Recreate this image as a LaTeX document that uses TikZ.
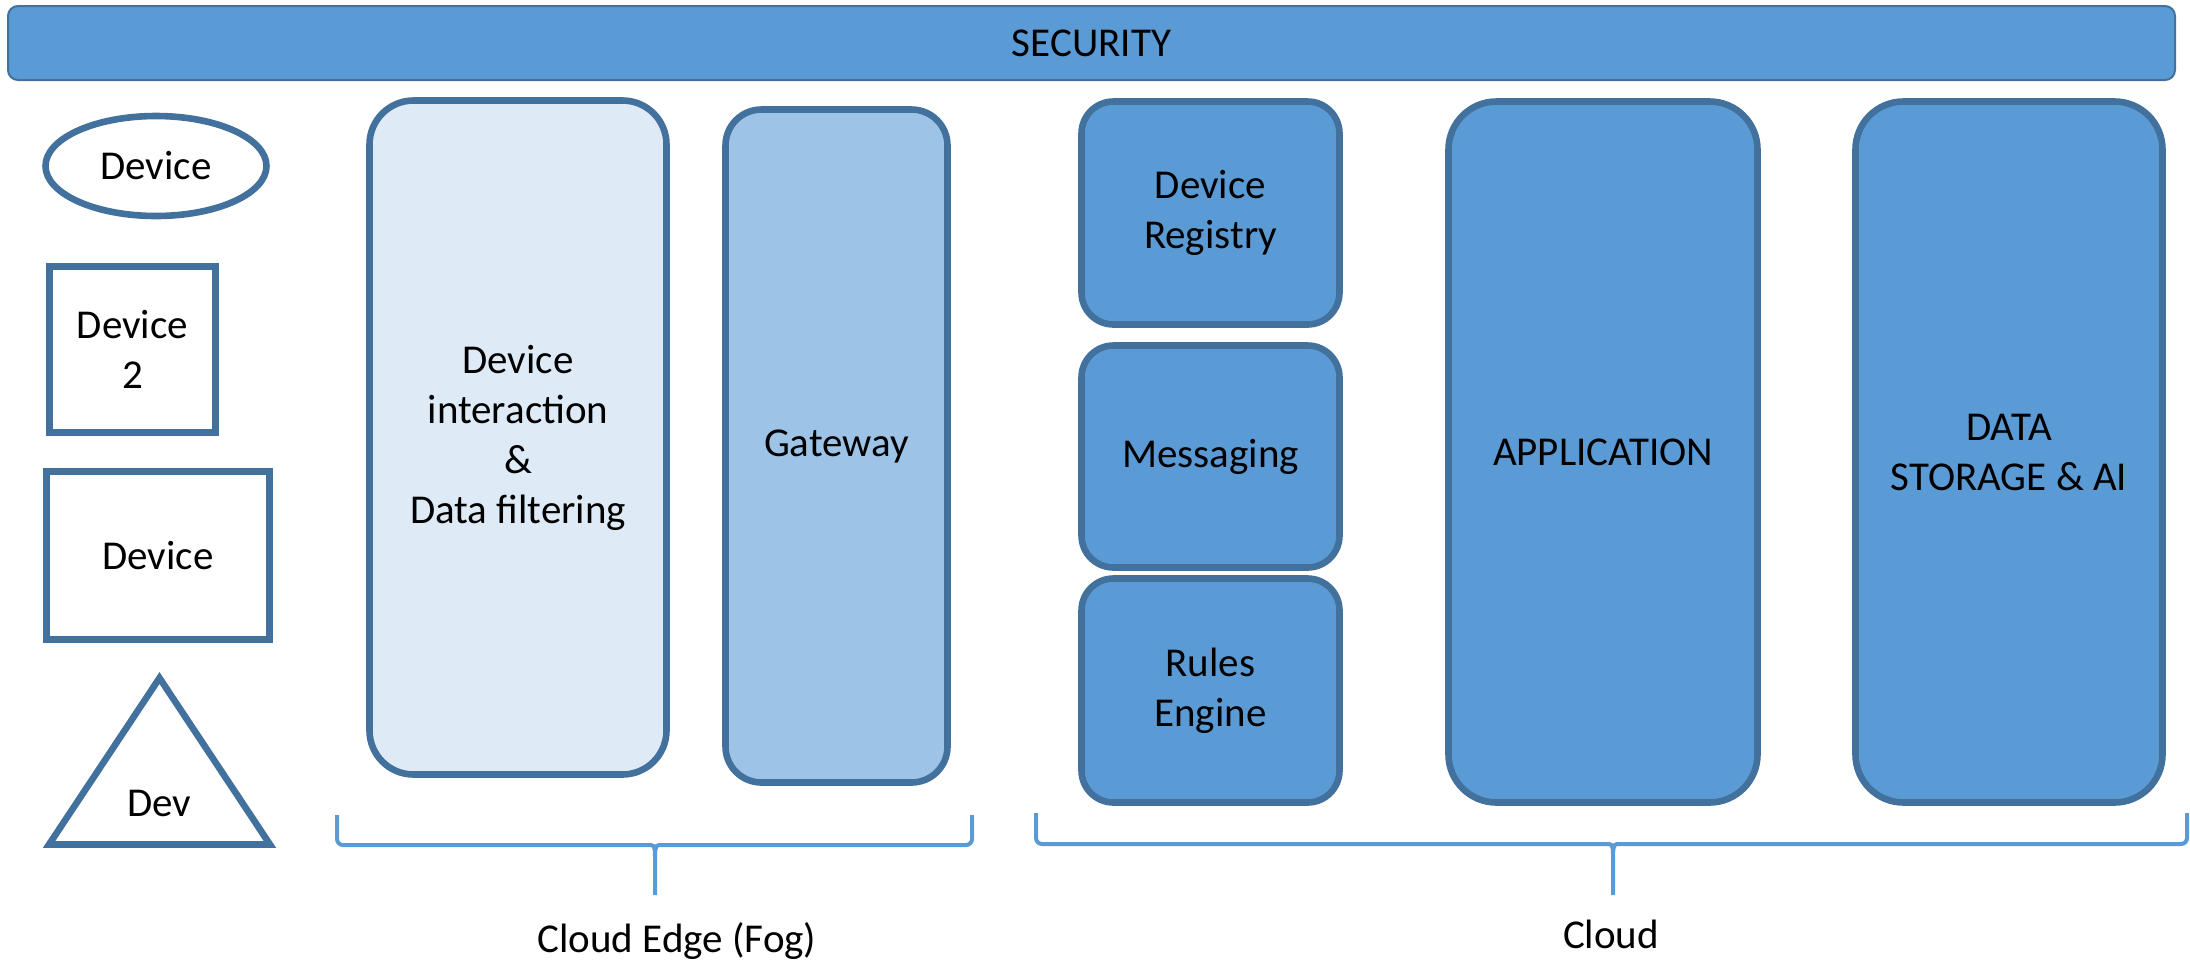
\documentclass[tikz,border=0pt]{standalone}
\usepackage{fontspec}
\setmainfont{Carlito}
\usetikzlibrary{positioning, shapes}
\definecolor{layerblue}{HTML}{5B9BD5}
\definecolor{edgeblue}{HTML}{41719C}
\definecolor{fogblue}{HTML}{DEEBF7}
\definecolor{gateblue}{HTML}{9DC3E6}
\tikzset{Text style/.style={font=\fontsize{20.5}{25}\selectfont, align=center, inner sep=0pt}}
\tikzset{Layer style/.style={Text style, draw=edgeblue, line width=3.3pt, fill=layerblue, rounded corners=16pt}}
\tikzset{Device style/.style={Text style, draw=edgeblue, line width=3.3pt, fill=white}}
\tikzset{Brace style/.style={draw=layerblue, line width=2pt, rounded corners=3pt}}
\tikzset{
	x=0.5pt, % un pixel de la imagen
	y=-0.5pt, % el eje y crece hacia abajo
}

\begin{document}
\begin{tikzpicture}
        \useasboundingbox (0,0) rectangle (2190,965);

        % Barra superior
        \node[Layer style, line width=1pt, rounded corners=5pt, minimum width=1083.5pt, minimum height=37pt] (security) at (1091.5,43) {SECURITY};

        % Dispositivos
        \node[Device style, ellipse, minimum width=110.5pt, minimum height=50pt] (dev_oval) at (156,166) {Device};
        \node[Device style, minimum width=83pt, minimum height=83pt] (dev_two) at (132.5,349.5) {Device\\2};
        \node[Device style, minimum width=111.5pt, minimum height=84pt] (dev_box) at (158,555.5) {Device};
        \draw[draw=edgeblue, line width=3.3pt, line join=miter] (159.5,678) -- (49,844.5) -- (270,844.5) -- cycle;
        \node[Text style] (dev_tri) at (159,803) {Dev};

        % Cloud Edge (Fog)
        \node[Layer style, fill=fogblue, rounded corners=22pt, minimum width=148.5pt, minimum height=337pt] (filtering) at (518,437.5) {Device\\interaction\\\&\\Data filtering};
        \node[Layer style, fill=gateblue, rounded corners=18pt, minimum width=111pt, minimum height=336.5pt] (gateway) at (836.5,446) {Gateway};

        % Cloud
        \node[Layer style, minimum width=129pt, minimum height=111.5pt] (registry) at (1210.5,213) {Device\\Registry};
        \node[Layer style, minimum width=129pt, minimum height=111pt] (messaging) at (1210.5,456.5) {Messaging};
        \node[Layer style, minimum width=129pt, minimum height=112pt] (rules) at (1210.5,690.5) {Rules\\Engine};
        \node[Layer style, rounded corners=24pt, minimum width=154.5pt, minimum height=350.5pt] (application) at (1603,452) {APPLICATION};
        \node[Layer style, rounded corners=24pt, minimum width=153.5pt, minimum height=350.5pt] (storage) at (2009,452) {DATA\\STORAGE \& AI};

        % Llaves
        \draw[Brace style] (337,815) -- (337,845) -- (645,845) .. controls (655,845) and (655,850) .. (655,865) -- (655,895)
              (655,865) .. controls (655,850) and (655,845) .. (665,845) -- (972,845) -- (972,815);
        \draw[Brace style] (1036,813) -- (1036,844) -- (1603,844) .. controls (1613,844) and (1613,849) .. (1613,864) -- (1613,895)
              (1613,864) .. controls (1613,849) and (1613,844) .. (1623,844) -- (2187,844) -- (2187,813);
        \node[Text style] (fog_label) at (677,941) {Cloud Edge (Fog)};
        \node[Text style] (cloud_label) at (1611,934) {Cloud};
\end{tikzpicture}
\end{document}
